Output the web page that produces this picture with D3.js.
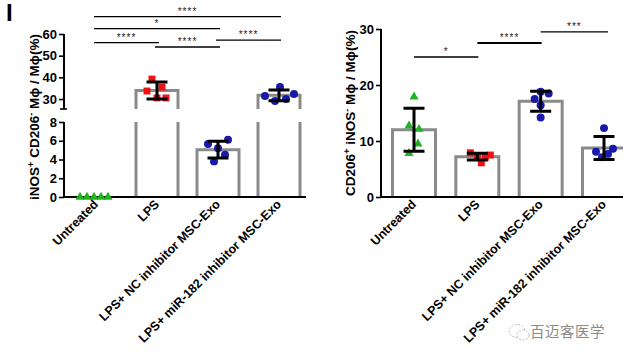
<!DOCTYPE html>
<html><head><meta charset="utf-8">
<script src="https://cdn.jsdelivr.net/npm/d3@7"></script>
<style>
body{margin:0;background:#fff;}
svg{display:block;font-family:"Liberation Sans",Arial,sans-serif;}
</style></head>
<body>
<svg id="c" width="623" height="356"></svg>
<script>
const categories = ["Untreated","LPS","LPS+ NC inhibitor MSC-Exo","LPS+ miR-182 inhibitor MSC-Exo"];
// Left panel: iNOS+ CD206- Mφ / Mφ (%)
const leftMeans = [0, 33.9, 5.05, 31.7];
const leftSD = [0, 3.9, 0.9, 2.5];
const leftPoints = [
  [0,0,0,0,0],
  [39.2,33.7,35.5,30.5,30.5],
  [5.65,6.1,5.2,4.5,3.8],
  [35.5,31.4,32.3,29.1,30.0]
];
const leftTicksLow = [0,2,4,6,8];
const leftTicksHigh = [30,40,50,60];
// Right panel: CD206+ iNOS- Mφ / Mφ (%)
const rightMeans = [12.0, 7.2, 17.1, 8.75];
const rightSD = [3.85, 0.6, 1.8, 2.05];
const rightPoints = [
  [17.9,12.7,12.1,9.5,7.8],
  [7.9,7.4,6.1,7.1,7.5],
  [18.8,18.5,17.5,16.4,14.2],
  [12.3,8.1,8.6,7.1,7.7]
];
const rightTicks = [0,10,20,30];
const markerShapes = ["triangle","square","circle","circle"];
const markerColors = ["#22b322","#ee1111","#1a1aaa","#1a1aaa"];
// significance comparisons [from, to, label, value-level]
const leftSig = [
  [0,3,"****",68],
  [0,2,"*",62.5],
  [0,1,"****",56],
  [1,2,"****",54],
  [2,3,"****",57.2]
];
const rightSig = [
  [0,1,"*",25],
  [1,2,"****",27.5],
  [2,3,"***",29.5]
];
const rightOffsets = [[0,-5,5,4,-5],[-7,0,4,8,13],[0,8,-6,0,0],[0,-8,9,-2,4]];
const leftOffsets = [[0,0,0,0,0],[-5,-10,5,0,9],[-10,10,0,7,-4],[1,-14,15,-4,7]];

const svg = d3.select("#c");
const FONT = "'Liberation Sans',Arial,sans-serif";
const barStroke = "#8a8a8a";

function marker(g, shape, color, x, y){
  const sym = shape==="triangle" ? d3.symbol(d3.symbolTriangle, 36)
            : shape==="square" ? d3.symbol(d3.symbolSquare, 48)
            : d3.symbol(d3.symbolCircle, 50);
  g.append("path").attr("d", sym()).attr("transform",`translate(${x},${y})`).attr("fill",color);
}

function styleAxis(g){
  g.selectAll("path.domain").remove();
  g.selectAll(".tick line").attr("stroke","#000").attr("stroke-width",1.6);
  g.selectAll(".tick text").attr("font-family",FONT).attr("font-weight","bold").attr("font-size",13).attr("fill","#000");
}

function xLabels(g, x, y0){
  categories.forEach(c=>{
    g.append("text").attr("transform",`translate(${x(c)+3},${y0+8}) rotate(-45)`)
      .attr("text-anchor","end").attr("font-family",FONT).attr("font-weight","bold")
      .attr("font-size",12.5).text(c);
  });
}

function sigLabel(g, xm, yy, lab){
  g.append("text").attr("x",xm).attr("y",yy-2).attr("text-anchor","middle").attr("font-family",FONT)
    .attr("font-size",10).attr("letter-spacing",1).attr("fill","#222").text(lab);
}

// ---------- Left panel ----------
(function(){
  const g = svg.append("g");
  const x = d3.scalePoint().domain(categories).range([96,279]);
  const yLow = d3.scaleLinear().domain([0,8]).range([197,122]);
  const yHigh = d3.scaleLinear().domain([25.4,60]).range([109,34]);
  const bw = 42, axX = 64;
  // bars
  categories.forEach((c,i)=>{
    const v = leftMeans[i], cx = x(c);
    if(v===0) return;
    if(v<=8){
      g.append("path").attr("d",`M${cx-bw/2},${yLow(0)}V${yLow(v)}H${cx+bw/2}V${yLow(0)}`)
        .attr("fill","#fff").attr("stroke",barStroke).attr("stroke-width",3);
    } else {
      g.append("path").attr("d",`M${cx-bw/2},${yHigh.range()[0]}V${yHigh(v)}H${cx+bw/2}V${yHigh.range()[0]}`)
        .attr("fill","#fff").attr("stroke",barStroke).attr("stroke-width",3);
      g.append("path").attr("d",`M${cx-bw/2},${yLow(8)}V${yLow(0)}M${cx+bw/2},${yLow(8)}V${yLow(0)}`)
        .attr("fill","none").attr("stroke",barStroke).attr("stroke-width",3);
    }
  });
  // x axis line
  g.append("line").attr("x1",axX).attr("x2",306).attr("y1",yLow(0)).attr("y2",yLow(0)).attr("stroke","#000").attr("stroke-width",2);
  // points
  categories.forEach((c,i)=>{
    leftPoints[i].forEach((v,j)=>{
      const cx = x(c);
      let px, py;
      if(i===0){ px = axX + 16 + j*7; py = yLow(v); }
      else { px = cx + leftOffsets[i][j]; py = v<=8 ? yLow(v) : yHigh(v); }
      marker(g, markerShapes[i], markerColors[i], px, py);
    });
  });
  // error bars
  categories.forEach((c,i)=>{
    const m = leftMeans[i], s = leftSD[i]; if(m===0) return;
    const sc = m<=8 ? yLow : yHigh, cx = x(c);
    g.append("path").attr("d",`M${cx},${sc(m-s)}V${sc(m+s)}M${cx-10.5},${sc(m+s)}H${cx+10.5}M${cx-10.5},${sc(m-s)}H${cx+10.5}`)
      .attr("stroke","#000").attr("stroke-width",3).attr("fill","none");
  });
  // y axes
  const aLow = g.append("g").attr("transform",`translate(${axX},0)`).call(d3.axisLeft(yLow).tickValues(leftTicksLow).tickSize(5).tickPadding(2));
  styleAxis(aLow);
  g.append("line").attr("x1",axX).attr("x2",axX).attr("y1",yLow(8)).attr("y2",yLow(0)+1).attr("stroke","#000").attr("stroke-width",2);
  const aHigh = g.append("g").attr("transform",`translate(${axX},0)`).call(d3.axisLeft(yHigh).tickValues(leftTicksHigh).tickSize(5).tickPadding(2));
  styleAxis(aHigh);
  g.append("line").attr("x1",axX).attr("x2",axX).attr("y1",yHigh(60)).attr("y2",yHigh.range()[0]).attr("stroke","#000").attr("stroke-width",2);
  g.append("line").attr("x1",axX-4).attr("x2",axX+3).attr("y1",yHigh.range()[0]).attr("y2",yHigh.range()[0]).attr("stroke","#000").attr("stroke-width",1.6);
  // significance
  leftSig.forEach(([a,b,lab,lv])=>{
    const yy = yHigh(lv);
    const x1 = x(categories[a]) - 2, x2 = x(categories[b]) + 2;
    g.append("line").attr("x1",x1).attr("x2",x2).attr("y1",yy).attr("y2",yy).attr("stroke","#000").attr("stroke-width",1.3);
    sigLabel(g, (x1+x2)/2, yy, lab);
  });
  xLabels(g, x, yLow(0));
  // y label
  const t = g.append("text").attr("transform",`translate(39,117) rotate(-90)`).attr("text-anchor","middle")
    .attr("font-family",FONT).attr("font-weight","bold").attr("font-size",13.5);
  t.append("tspan").text("iNOS");
  t.append("tspan").attr("dy",-5).attr("font-size",9).text("+");
  t.append("tspan").attr("dy",5).text(" CD206");
  t.append("tspan").attr("dy",-5).attr("font-size",9).text("-");
  t.append("tspan").attr("dy",5).text(" Mϕ / Mϕ(%)");
  // panel letter
  svg.append("text").attr("x",6).attr("y",21).attr("font-family",FONT).attr("font-weight","bold").attr("font-size",24).text("I");
})();

// ---------- Right panel ----------
(function(){
  const g = svg.append("g");
  const x = d3.scalePoint().domain(categories).range([414,604]);
  const y = d3.scaleLinear().domain([0,30]).range([197,29]);
  const bw = 43, axX = 381;
  categories.forEach((c,i)=>{
    const v = rightMeans[i], cx = x(c);
    g.append("path").attr("d",`M${cx-bw/2},${y(0)}V${y(v)}H${cx+bw/2}V${y(0)}`)
      .attr("fill","#fff").attr("stroke",barStroke).attr("stroke-width",3);
  });
  g.append("line").attr("x1",axX).attr("x2",623).attr("y1",y(0)).attr("y2",y(0)).attr("stroke","#000").attr("stroke-width",2);
  categories.forEach((c,i)=>{
    rightPoints[i].forEach((v,j)=>{
      marker(g, markerShapes[i], markerColors[i], x(c)+rightOffsets[i][j], y(v));
    });
  });
  categories.forEach((c,i)=>{
    const m = rightMeans[i], s = rightSD[i], cx = x(c);
    g.append("path").attr("d",`M${cx},${y(m-s)}V${y(m+s)}M${cx-10.5},${y(m+s)}H${cx+10.5}M${cx-10.5},${y(m-s)}H${cx+10.5}`)
      .attr("stroke","#000").attr("stroke-width",3).attr("fill","none");
  });
  const ax = g.append("g").attr("transform",`translate(${axX},0)`).call(d3.axisLeft(y).tickValues(rightTicks).tickSize(5).tickPadding(2));
  styleAxis(ax);
  g.append("line").attr("x1",axX).attr("x2",axX).attr("y1",y(30)).attr("y2",y(0)+1).attr("stroke","#000").attr("stroke-width",2);
  rightSig.forEach(([a,b,lab,lv],k)=>{
    const yy = y(lv);
    const x1 = x(categories[a]), x2 = x(categories[b]) + (k===2?4:1);
    g.append("line").attr("x1",x1).attr("x2",x2).attr("y1",yy).attr("y2",yy).attr("stroke","#000").attr("stroke-width",k===1?2.2:1.3);
    sigLabel(g, (x1+x2)/2, yy, lab);
  });
  xLabels(g, x, y(0));
  const t = g.append("text").attr("transform",`translate(355,113) rotate(-90)`).attr("text-anchor","middle")
    .attr("font-family",FONT).attr("font-weight","bold").attr("font-size",13.5);
  t.append("tspan").text("CD206");
  t.append("tspan").attr("dy",-5).attr("font-size",9).text("+");
  t.append("tspan").attr("dy",5).text(" iNOS");
  t.append("tspan").attr("dy",-5).attr("font-size",9).text("-");
  t.append("tspan").attr("dy",5).text(" Mϕ / Mϕ(%)");
})();

// watermark
const wm = svg.append("g");
wm.append("ellipse").attr("cx",517).attr("cy",331).attr("rx",8).attr("ry",6.5).attr("fill","none").attr("stroke","#bbb").attr("stroke-width",1).attr("stroke-dasharray","2,1.5");
wm.append("ellipse").attr("cx",523).attr("cy",335).attr("rx",6).attr("ry",5).attr("fill","#fff").attr("stroke","#bbb").attr("stroke-width",1).attr("stroke-dasharray","2,1.5");
wm.append("text").attr("x",530).attr("y",337).attr("font-family","'Noto Sans CJK SC',sans-serif").attr("font-size",14.5).attr("fill","#8a8a8a").attr("letter-spacing",0.5).text("百迈客医学");
</script>
</body></html>
